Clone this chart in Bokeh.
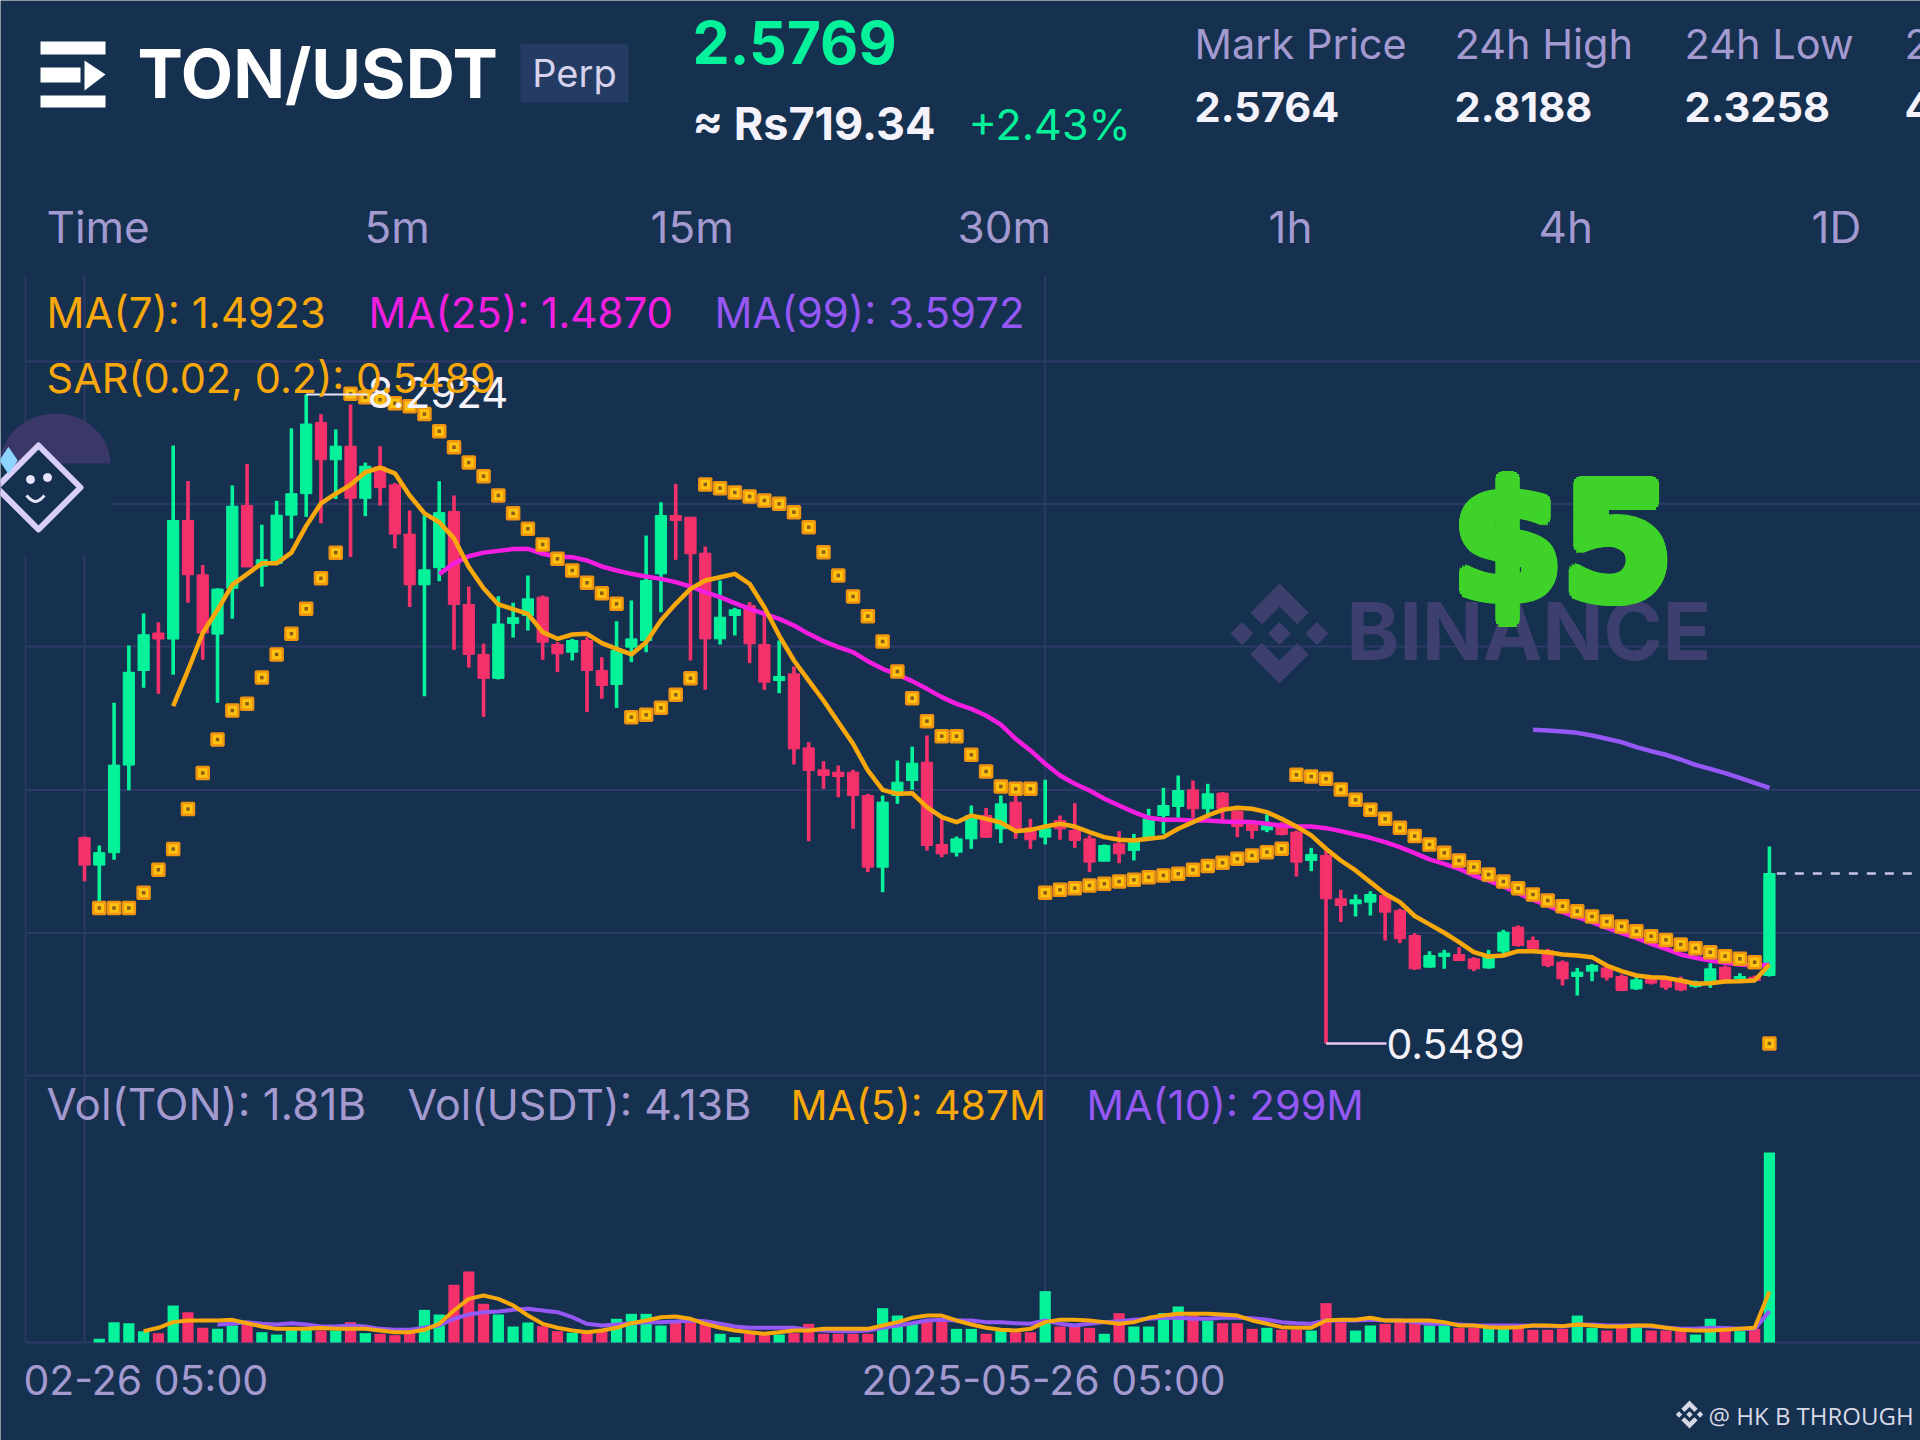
import math
from bokeh.embed import file_html
from bokeh.resources import INLINE
from bokeh.plotting import figure
from bokeh.models import Range1d
from bokeh.core.properties import value

# ---------- chart values ----------
OPEN = [3.005,2.677,2.826,3.87,4.999,5.446,5.374,6.788,6.141,5.433,
5.979,6.967,6.243,6.277,6.852,7.108,7.96,7.513,7.675,7.053,
7.428,7.214,6.626,6.021,6.226,6.895,5.787,5.191,4.905,5.561,
5.655,5.874,5.309,5.217,5.357,4.999,4.832,5.277,5.357,6.152,
6.848,6.828,6.399,5.376,5.655,5.774,5.309,4.879,4.959,4.076,
3.814,3.786,3.786,3.507,2.652,3.507,3.686,3.905,2.923,2.831,
2.99,3.269,3.11,3.428,3.122,3.011,3.209,3.09,2.991,2.724,
2.931,2.852,2.991,3.269,3.377,3.575,3.349,3.536,3.321,3.19,
3.098,3.17,3.07,2.732,2.792,2.275,2.215,2.235,2.315,2.136,
1.837,1.46,1.587,1.61,1.559,1.451,1.65,1.937,1.777,1.658,
1.519,1.348,1.412,1.451,1.348,1.201,1.332,1.308,1.308,1.229,
1.28,1.459,1.32,1.34,1.36]
HIGH = [3.017,2.911,4.615,5.297,5.68,5.574,7.683,7.26,6.256,5.979,
7.206,7.462,6.737,7.023,7.888,8.2924,8.058,7.875,8.173,7.479,
7.675,7.236,6.908,6.852,7.257,7.087,6.0,5.318,5.885,5.808,
6.132,5.894,5.337,5.376,5.396,5.158,5.587,5.834,6.609,7.007,
7.226,6.828,6.478,6.072,5.746,5.814,5.675,5.357,5.046,4.144,
3.917,3.865,3.814,3.527,3.507,3.925,4.092,4.223,3.249,3.018,
3.388,3.36,3.508,3.508,3.229,3.695,3.269,3.416,3.031,2.923,
3.082,3.05,3.349,3.599,3.746,3.687,3.647,3.548,3.329,3.209,
3.281,3.19,3.09,2.883,2.852,2.382,2.327,2.366,2.327,2.156,
1.865,1.65,1.666,1.698,1.579,1.666,1.905,1.957,1.825,1.678,
1.539,1.451,1.499,1.459,1.372,1.34,1.36,1.34,1.348,1.3,
1.507,1.479,1.388,1.36,2.899]
LOW = [2.485,2.165,2.74,3.571,4.794,4.722,4.948,5.808,5.127,4.615,
5.617,6.234,6.0,6.256,6.575,6.831,6.754,7.044,6.354,6.84,
6.967,6.456,5.757,4.692,6.064,5.246,5.033,4.445,4.892,5.391,
5.476,5.126,4.979,5.118,4.502,4.661,4.553,5.098,5.217,5.695,
6.319,5.118,4.768,5.309,5.416,5.086,4.768,4.728,3.877,2.962,
3.587,3.487,3.11,2.593,2.354,3.408,3.575,2.851,2.772,2.78,
2.871,3.002,2.939,2.991,2.871,2.923,2.979,2.883,2.593,2.724,
2.7,2.732,2.971,3.05,3.241,3.241,3.241,3.209,3.011,2.991,
3.07,3.031,2.541,2.605,0.5489,1.997,2.064,2.076,1.778,1.746,
1.428,1.452,1.44,1.531,1.412,1.44,1.579,1.706,1.658,1.459,
1.241,1.121,1.292,1.3,1.173,1.189,1.253,1.189,1.173,1.213,
1.213,1.292,1.3,1.292,1.348]
CLOSE = [2.677,2.826,3.87,4.977,5.425,5.374,6.788,6.141,5.446,5.97,
6.959,6.234,6.32,6.852,7.108,7.939,7.513,7.675,7.053,7.436,
7.18,6.626,6.021,6.2,6.882,5.787,5.191,4.905,5.553,5.629,
5.854,5.337,5.198,5.357,4.999,4.82,5.237,5.376,6.072,6.848,
6.788,6.391,5.376,5.635,5.723,5.317,4.86,4.927,4.064,3.806,
3.746,3.734,3.507,2.652,3.428,3.666,3.893,2.911,2.811,2.99,
3.269,3.01,3.408,3.11,2.979,3.11,3.11,2.971,2.712,2.911,
2.812,2.951,3.229,3.388,3.567,3.349,3.528,3.349,3.138,3.09,
3.17,3.042,2.712,2.804,2.275,2.195,2.263,2.327,2.116,1.798,
1.44,1.599,1.627,1.539,1.44,1.599,1.877,1.718,1.678,1.479,
1.32,1.4,1.479,1.34,1.181,1.308,1.269,1.221,1.189,1.28,
1.44,1.308,1.348,1.3,2.5769]
SAR = [2.165,2.165,2.165,2.348,2.621,2.868,3.345,3.776,4.176,4.522,4.602,4.914,5.191,5.438,5.736,6.098,6.405,
8.301,8.258,8.229,8.186,8.152,8.058,7.854,7.662,7.479,7.317,7.087,6.874,6.69,6.503,6.331,6.192,6.045,5.921,5.794,
4.442,4.47,4.553,4.708,4.907,
7.218,7.174,7.122,7.075,7.027,6.987,6.888,6.709,6.411,6.132,5.882,5.647,5.345,4.987,4.669,4.394,4.215,4.215,3.993,3.794,3.615,3.587,3.587,
2.346,2.382,2.402,2.434,2.454,2.482,2.502,2.533,2.553,2.573,2.621,2.665,2.704,2.752,2.792,2.832,2.871,
3.754,3.734,3.707,3.579,3.456,3.337,3.229,3.122,3.023,2.923,2.824,2.732,2.653,2.565,2.481,2.402,2.326,2.255,2.187,2.128,2.064,2.004,1.945,1.889,1.829,1.785,1.73,1.686,1.638,1.591,1.559,1.519,
0.5489]
MA7 = [4.573,4.999,5.446,5.723,6.021,6.149,6.277,6.277,6.405,6.724,6.993,7.108,7.214,7.364,7.419,7.351,7.087,6.874,6.767,6.575,6.234,5.979,5.787,5.732,
5.675,5.456,5.377,5.428,5.436,5.325,5.257,5.19,5.337,5.595,5.794,5.973,6.072,6.112,6.152,6.033,5.754,5.416,5.118,4.879,4.641,4.382,4.124,3.806,3.575,3.527,3.535,3.368,3.249,3.189,3.269,3.229,3.185,
3.082,3.098,3.138,3.17,3.138,3.07,3.011,2.979,2.971,2.991,3.011,3.11,3.19,3.269,3.337,3.361,3.349,3.309,3.229,3.138,3.031,2.872,2.732,2.613,2.474,2.335,2.235,2.07,1.97,1.87,
1.758,1.638,1.587,1.599,1.65,1.65,1.638,1.611,1.599,1.579,1.479,1.412,1.36,1.34,1.332,1.3,1.261,1.269,1.288,1.292,1.3,1.4923]
MA25 = [6.149,6.277,6.362,6.405,6.426,6.448,6.45,6.391,6.359,6.351,6.311,6.24,6.192,6.152,6.12,6.092,6.053,6.001,5.933,5.874,5.802,5.734,5.675,5.615,5.536,5.436,5.349,5.277,5.217,5.11,5.019,4.951,4.872,4.78,4.681,4.601,4.541,4.462,4.354,
4.184,4.045,3.886,3.746,3.647,3.567,3.468,3.388,3.309,3.241,3.217,3.217,3.209,3.209,3.198,3.19,3.19,3.17,3.15,3.138,3.138,3.118,3.082,3.042,3.003,2.951,2.891,2.82,2.745,2.692,
2.633,2.553,2.493,2.422,2.342,2.263,2.195,2.116,2.056,1.996,1.929,1.865,1.809,1.738,1.678,1.611,1.571,1.539,1.511,1.491,1.479,1.487]
MA99 = [4.291,4.283,4.271,4.255,4.223,4.184,4.144,4.084,4.036,3.993,3.937,3.873,3.826,3.774,3.718,3.659,3.5972]
VOLUME = [0,35,194,184,108,89,353,289,140,130,
162,172,98,76,140,140,114,114,194,89,
83,70,89,311,267,550,677,369,267,152,
191,156,108,92,108,108,226,273,273,162,
210,210,194,83,51,83,83,76,89,178,
83,83,83,83,327,257,194,210,210,130,
130,83,121,98,98,489,152,152,140,83,
280,152,152,280,343,257,210,184,184,130,
140,121,121,114,375,194,114,162,178,216,
210,162,178,140,140,140,140,140,121,121,
130,257,140,114,172,152,114,114,114,76,
226,130,108,130,1810]
VOL_MA5 = [108,140,194,210,210,210,216,184,152,130,130,130,137,130,130,130,114,98,98,121,178,305,416,448,416,353,257,178,140,114,98,114,140,184,210,241,248,226,178,140,114,98,83,98,114,114,130,130,130,130,162,194,235,257,257,210,
172,140,121,114,130,194,216,216,210,194,178,194,235,257,273,273,273,267,257,210,178,146,140,140,210,216,216,235,210,210,210,210,194,162,162,146,140,146,162,162,156,172,162,152,152,162,162,140,121,114,114,121,130,140,487]
VOL_MA10 = [172,178,194,178,172,184,172,152,152,162,152,130,121,121,140,162,226,267,289,295,311,321,305,289,241,178,162,172,184,194,194,200,210,203,178,152,140,140,140,140,121,114,108,108,114,140,162,184,210,216,210,
210,194,194,184,178,210,178,162,178,194,203,216,226,235,235,226,226,235,235,232,216,194,184,178,210,210,210,216,210,210,194,178,178,172,162,162,162,162,159,156,152,172,172,162,162,162,152,140,130,130,140,137,130,130,299]
GRID_PRICES = [8.685, 6.985, 5.285, 3.573, 1.867, 0.167]
GRID_INDEX = [0, 65]
TAB_LABELS = ["Time", "5m", "15m", "30m", "1h", "4h", "1D"]
STAT_LABELS = ["Mark Price", "24h High", "24h Low", "2"]
STAT_VALUES = ["2.5764", "2.8188", "2.3258", "4"]

# ---------- mapping ----------
BG = "#16304f"; UP = "#05f29b"; DOWN = "#f4316b"
GRID = "#2c3a68"; LAV = "#a39ad0"
ORANGE = "#f9a80c"; MAGENTA = "#f41ee0"; PURPLE = "#9558f5"
PX_X0, DX = 84.0, 14.78           # pixel of candle 0, spacing
PY, SLOPE = 1043.0, 0.01193       # pixel of 0.5489, price per pixel
VBASE, VSCALE = 1342.0, 1810/190  # pixel of zero volume, M per pixel
idx = lambda px: (px - PX_X0) / DX
price = lambda py: 0.5489 + (PY - py) * SLOPE

W, H = 1920, 1440
p = figure(width=W, height=H, output_backend="svg", toolbar_location=None,
           x_range=Range1d(idx(0), idx(1920)), y_range=Range1d(price(1440), price(0)),
           x_axis_type=None, y_axis_type=None, min_border=0,
           background_fill_color=BG, border_fill_color=BG, outline_line_color=None)
p.extra_x_ranges = {"px": Range1d(0, 1920)}
p.extra_y_ranges = {"px": Range1d(1440, 0),
                    "vol": Range1d((VBASE - 1440) * VSCALE, VBASE * VSCALE)}
PXR = dict(x_range_name="px", y_range_name="px")
BASE = 0.38  # the text's drawn baseline sits this many font sizes under the given y

def txt(x, y, s, size, color, bold=False, font="Inter", align="left"):
    p.text(x=[x], y=[y - BASE * size], text=[s], text_font=value(font), text_font_size=f"{size}px",
           text_color=color, text_font_style="bold" if bold else "normal",
           text_baseline="alphabetic", text_align=align, **PXR)

def binance(cx, cy, r, color):
    k = r / 48
    for sy in (-1, 1):
        xs = [0, 28, 17, 0, -17, -28]; ys = [48, 20, 9, 26, 9, 20]
        p.patch([cx + a * k for a in xs], [cy + sy * b * k for b in ys], color=color, line_width=0, **PXR)
    for ox in (-36, 0, 36):
        h = 11 * k
        c = cx + ox * k
        p.patch([c - h, c, c + h, c], [cy, cy - h, cy, cy + h], color=color, line_width=0, **PXR)

# ---------- grid ----------
p.segment(x0=[idx(25)] * len(GRID_PRICES), x1=[idx(1920)] * len(GRID_PRICES), y0=GRID_PRICES, y1=GRID_PRICES,
          line_color=GRID, line_width=2)
p.segment(x0=[idx(25)], x1=[idx(1920)], y0=[0], y1=[0], y_range_name="vol", line_color=GRID, line_width=2)
p.segment(x0=[idx(25)], x1=[idx(25)], y0=[price(275)], y1=[price(1342)], line_color=GRID, line_width=1.5)
p.segment(x0=GRID_INDEX, x1=GRID_INDEX, y0=[price(275)] * 2, y1=[price(1342)] * 2, line_color=GRID, line_width=2)
# the floating robot button hides the grid behind it
p.quad(left=[78], right=[110], top=[440], bottom=[555], color=BG, line_width=0, **PXR)
p.quad(left=[20], right=[78], top=[440], bottom=[555], color=BG, line_width=0, **PXR)

# ---------- watermark ----------
binance(1279, 633, 50, "#3d406e")
txt(1346, 660, "BINANCE", 80, "#3d406e", bold=True)

# ---------- candles ----------
N = len(CLOSE)
xs = list(range(N))
up = [c >= o for o, c in zip(OPEN, CLOSE)]
colors = [UP if u else DOWN for u in up]
p.segment(x0=xs, x1=xs, y0=LOW, y1=HIGH, line_color=colors, line_width=3.6)
p.vbar(x=xs, width=0.76, bottom=[min(a, b) for a, b in zip(OPEN, CLOSE)],
       top=[max(a, b) for a, b in zip(OPEN, CLOSE)], fill_color=colors, line_color=colors, line_width=1)

# ---------- volume ----------
p.vbar(x=xs, width=0.76, bottom=0, top=VOLUME, y_range_name="vol", fill_color=colors, line_color=None)
tail = lambda arr: list(range(N - len(arr), N))
p.line(tail(VOL_MA10), VOL_MA10, y_range_name="vol", line_color=PURPLE, line_width=4, line_join="round")
p.line(tail(VOL_MA5), VOL_MA5, y_range_name="vol", line_color=ORANGE, line_width=4, line_join="round")

# ---------- indicators ----------
p.line(tail(MA99), MA99, line_color=PURPLE, line_width=4.5, line_join="round")
p.line(tail(MA25), MA25, line_color=MAGENTA, line_width=4.5, line_join="round")
sx = tail(SAR)
p.scatter(sx, SAR, marker="square", size=12, fill_color="#fec20f", line_color="#ef9410", line_width=2.5)
p.scatter(sx, SAR, marker="square", size=3.5, fill_color="#8a5a1a", line_color=None)
p.line(tail(MA7), MA7, line_color=ORANGE, line_width=4.5, line_join="round")

# ---------- price markers ----------
p.segment(x0=[114.5], x1=[idx(1920)], y0=[CLOSE[-1]], y1=[CLOSE[-1]], line_color="#c9c4e6", line_width=2.5, line_dash="9 9")
hi = HIGH.index(max(HIGH)); lo = LOW.index(min(LOW))
p.segment(x0=[hi], x1=[idx(367)], y0=[HIGH[hi]], y1=[HIGH[hi]], line_color="#e8e6f5", line_width=2)
p.segment(x0=[lo], x1=[idx(1386)], y0=[LOW[lo]], y1=[LOW[lo]], line_color="#e6c8f0", line_width=2.5)
txt(367, 408, "8.2924", 42, "#f4f3fb")
txt(1386, 1059, "0.5489", 41, "#f4f3fb")

# ---------- header ----------
for y0, y1, x1 in ((41, 54, 105), (67, 82, 80), (95, 107, 105)):
    p.quad(left=[40], right=[x1], top=[y0], bottom=[y1], color="white", line_width=0, **PXR)
p.patch([84, 105, 84], [60, 74, 90], color="white", line_width=0, **PXR)
txt(137, 98, "TON/USDT", 68, "white", bold=True)
p.quad(left=[520], right=[628], top=[43], bottom=[102], color="#243c63", line_width=0, **PXR)
txt(574, 87, "Perp", 38, "#d6d2ee", align="center")
txt(692, 64, "2.5769", 59, UP, bold=True)
txt(692, 140, "≈ Rs719.34", 45, "#f4f3fb", bold=True)
txt(968, 140, "+2.43%", 43, UP)
for x, a, b in zip((1194, 1454, 1684, 1904), STAT_LABELS, STAT_VALUES):
    txt(x, 59, a, 41.5, LAV)
    txt(x, 122, b, 41.5, "#f4f3fb", bold=True)
for x, t in zip((46, 364, 650, 957, 1268, 1538, 1811), TAB_LABELS):
    txt(x, 243, t, 44, LAV)
txt(46, 328, "MA(7): 1.4923", 42, ORANGE)
txt(368, 328, "MA(25): 1.4870", 42, MAGENTA)
txt(714, 328, "MA(99): 3.5972", 42, PURPLE)
txt(46, 393, "SAR(0.02, 0.2): 0.5489", 41.5, ORANGE)
txt(46, 1120, "Vol(TON): 1.81B", 44, LAV)
txt(407, 1120, "Vol(USDT): 4.13B", 43, LAV)
txt(790, 1120, "MA(5): 487M", 41, ORANGE)
txt(1086, 1120, "MA(10): 299M", 41.5, PURPLE)
txt(23, 1395, "02-26 05:00", 41, LAV)
txt(1043, 1395, "2025-05-26 05:00", 41, LAV, align="center")

# ---------- robot ----------
arc = [math.pi * i / 24 for i in range(25)]
p.patch([55 + 55 * math.cos(a) for a in arc], [463 - 50 * math.sin(a) for a in arc], color="#3a3868", line_width=0, **PXR)
p.patch([38, 80, 38, -4], [445, 487, 529, 487], fill_color=BG, line_color="#d9cdfa", line_width=6, line_join="round", **PXR)
p.scatter([30, 47], [479, 477], marker="circle", size=8, color="#e8e4ff", **PXR)
p.line([26 + 18 * i / 8 for i in range(9)], [495 + 6 * math.sin(math.pi * i / 8) for i in range(9)],
       line_color="#e8e4ff", line_width=3, **PXR)
p.scatter([8], [460], marker="diamond", size=26, color="#8fd4ff", **PXR)

# ---------- $5 ----------
ring = [(math.cos(math.pi * i / 6), math.sin(math.pi * i / 6)) for i in range(12)]
offs = [(0, 0)] + [(6 * a, 6 * b) for a, b in ring]
FS5 = 158
p.text(x=[1562 + a for a, _ in offs], y=[603 - BASE * FS5 + b for _, b in offs], text=["$5"] * len(offs), text_font=value("DejaVu Sans"),
       text_font_size=f"{FS5}px", text_font_style="bold", text_color="#3fd32a", text_align="center",
       text_baseline="alphabetic", **PXR)

# ---------- footer ----------
binance(1689, 1414, 14, "#d6d8e6")
txt(1708, 1424, "@ HK B THROUGH", 24, "#d6d8e6", font="Open Sans")

open("out.html", "w").write(file_html(p, INLINE))
